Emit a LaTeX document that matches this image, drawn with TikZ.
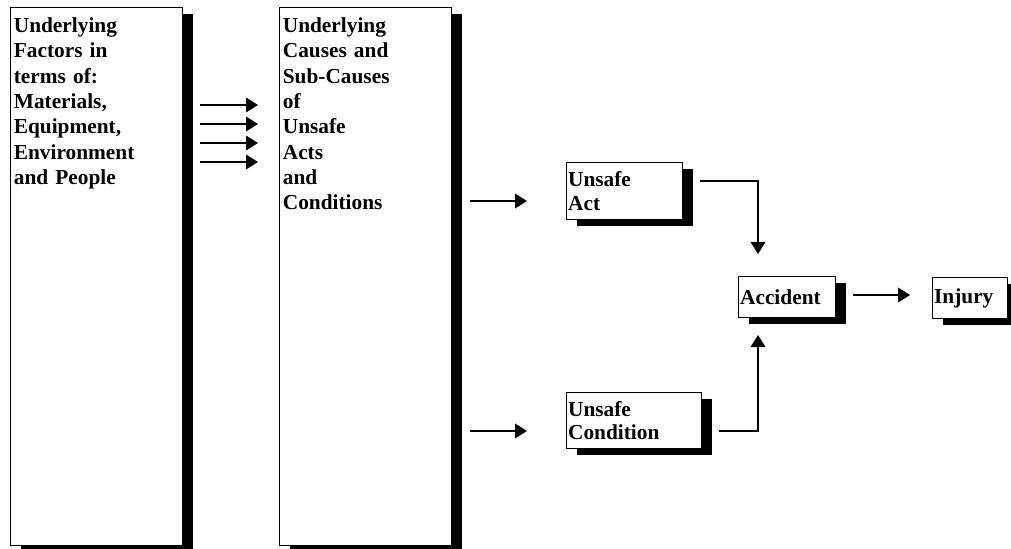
\documentclass[tikz,border=0pt]{standalone}
\usepackage{fontspec}
\setmainfont{Liberation Serif}
\usetikzlibrary{arrows.meta,shadows}
\tikzset{>={Triangle[length=9pt,width=11pt]}}
\tikzset{
  flowbox/.style={draw,line width=0.8pt,fill=white,anchor=north west,
    drop shadow={shadow xshift=8pt,shadow yshift=-4.7pt,opacity=1,fill=black},
    font=\bfseries\fontsize{16}{17.5}\selectfont,align=left,inner xsep=1.2pt},
  tallbox/.style={flowbox,font=\bfseries\fontsize{16}{19}\selectfont,
    inner xsep=2.5pt,inner ysep=3pt,text width=124pt,
    text height=15.75pt,text depth=381.75pt},
  flowline/.style={line width=1.1pt},
}

\begin{document}
\begin{tikzpicture}[x=0.75pt,y=-0.75pt]
  \useasboundingbox (0,0) rectangle (1011,549);
  % the two tall boxes
  \node[tallbox] (factors) at (10,7)
    {Underlying\\Factors in\\terms of:\\Materials,\\Equipment,\\Environment\\and People};
  \node[tallbox] (causes) at (279,7)
    {Underlying\\Causes and\\Sub-Causes\\of\\Unsafe\\Acts\\and\\Conditions};
  % the small boxes
  \node[flowbox,text width=84.6pt,minimum height=42.75pt] (act) at (566,162)
    {Unsafe\\Act};
  \node[flowbox,text width=98.85pt,minimum height=42pt] (condition) at (566,392)
    {Unsafe\\Condition};
  \node[flowbox,text width=70.35pt,minimum height=30.75pt] (accident) at (738,276)
    {Accident};
  \node[flowbox,text width=53.85pt,minimum height=30.75pt] (injury) at (932,277)
    {Injury};
  % arrow ends
  \coordinate (fa) at (200,105); \coordinate (ca) at (258,105);
  \coordinate (fb) at (200,124); \coordinate (cb) at (258,124);
  \coordinate (fc) at (200,143); \coordinate (cc) at (258,143);
  \coordinate (fd) at (200,162); \coordinate (cd) at (258,162);
  \coordinate (toact) at (470,201); \coordinate (actin) at (527,201);
  \coordinate (tocond) at (470,431); \coordinate (condin) at (527,431);
  \coordinate (actout) at (700,181); \coordinate (accdown) at (758,254);
  \coordinate (condout) at (719,431); \coordinate (accup) at (758,335);
  \coordinate (accout) at (853,295); \coordinate (injin) at (910,295);
  % connectors
  \draw[flowline,->] (fa) -- (ca);
  \draw[flowline,->] (fb) -- (cb);
  \draw[flowline,->] (fc) -- (cc);
  \draw[flowline,->] (fd) -- (cd);
  \draw[flowline,->] (toact) -- (actin);
  \draw[flowline,->] (tocond) -- (condin);
  \draw[flowline,->] (actout) -| (accdown);
  \draw[flowline,->] (condout) -| (accup);
  \draw[flowline,->] (accout) -- (injin);
\end{tikzpicture}
\end{document}
